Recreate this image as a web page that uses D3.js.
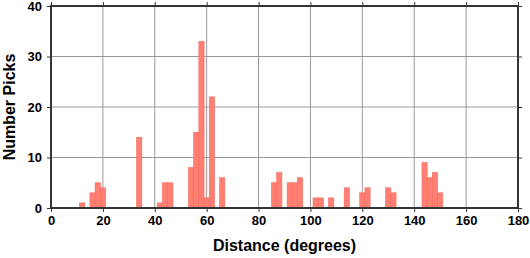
<!DOCTYPE html>
<html>
<head>
<meta charset="utf-8">
<script src="https://cdn.jsdelivr.net/npm/d3@7"></script>
<style>
  body { margin: 0; background: #fff; }
  text { font-family: "Liberation Sans", Arial, sans-serif; font-weight: bold; fill: #000; }
</style>
</head>
<body>
<svg id="chart" width="530" height="258"></svg>
<script>
// bin centres (degrees), 2-degree bins
const binCenters = [12, 16, 18, 20, 34, 42, 44, 46, 54, 56, 58, 60, 62, 66,
  86, 88, 92, 94, 96, 102, 104, 108, 114, 120, 122, 130, 132, 144, 146, 148, 150];
const pickCounts = [1, 3, 5, 4, 14, 1, 5, 5, 8, 15, 33, 2, 22, 6,
  5, 7, 5, 5, 6, 2, 2, 2, 4, 3, 4, 4, 3, 9, 6, 7, 3];
const xTicks = [0, 20, 40, 60, 80, 100, 120, 140, 160, 180];
const yTicks = [0, 10, 20, 30, 40];
const binWidth = 2;

const margin = { top: 6, left: 51, right: 12, bottom: 50 };
const width = 530 - margin.left - margin.right;
const height = 258 - margin.top - margin.bottom;

const svg = d3.select('#chart');
const g = svg.append('g').attr('transform', `translate(${margin.left},${margin.top})`);

const x = d3.scaleLinear().domain([0, 180]).range([0, width]);
const y = d3.scaleLinear().domain([0, 40]).range([height, 0]);

// grid
g.append('g')
  .selectAll('line')
  .data(xTicks)
  .enter().append('line')
  .attr('x1', d => x(d)).attr('x2', d => x(d))
  .attr('y1', 0).attr('y2', height)
  .attr('stroke', '#999').attr('stroke-width', 1);
g.append('g')
  .selectAll('line')
  .data(yTicks)
  .enter().append('line')
  .attr('x1', 0).attr('x2', width)
  .attr('y1', d => y(d)).attr('y2', d => y(d))
  .attr('stroke', '#999').attr('stroke-width', 1);

// bars
const data = binCenters.map((c, i) => ({ c, n: pickCounts[i] }));
g.append('g')
  .selectAll('rect')
  .data(data)
  .enter().append('rect')
  .attr('x', d => x(d.c - binWidth / 2))
  .attr('width', d => x(d.c + binWidth / 2) - x(d.c - binWidth / 2))
  .attr('y', d => y(d.n))
  .attr('height', d => y(0) - y(d.n))
  .attr('fill', '#ff8073')
  .attr('stroke', '#f8665a')
  .attr('stroke-width', 0.6);

// axes
const xAxis = d3.axisBottom(x).tickValues(xTicks).tickSize(4).tickPadding(4);
const yAxis = d3.axisLeft(y).tickValues(yTicks).tickSize(4).tickPadding(5);

const gx = g.append('g').attr('transform', `translate(0,${height})`).call(xAxis);
const gy = g.append('g').call(yAxis);
g.append('g').call(d3.axisTop(x).tickValues(xTicks).tickSize(4).tickFormat(''));
g.append('g').attr('transform', `translate(${width},0)`)
  .call(d3.axisRight(y).tickValues(yTicks).tickSize(4).tickFormat(''));

g.selectAll('.domain').remove();
g.selectAll('.tick line').attr('stroke', '#333').attr('stroke-width', 1);
gx.selectAll('text').style('font-size', '13px');
gy.selectAll('text').style('font-size', '13px');

// frame
g.append('rect')
  .attr('x', 0).attr('y', 0)
  .attr('width', width).attr('height', height)
  .attr('fill', 'none')
  .attr('stroke', '#333')
  .attr('stroke-width', 2);

// labels
svg.append('text')
  .attr('x', margin.left + width / 2)
  .attr('y', 251)
  .attr('text-anchor', 'middle')
  .style('font-size', '16px')
  .text('Distance (degrees)');

svg.append('text')
  .attr('transform', `translate(15,${margin.top + height / 2}) rotate(-90)`)
  .attr('text-anchor', 'middle')
  .style('font-size', '16px')
  .text('Number Picks');
</script>
</body>
</html>
